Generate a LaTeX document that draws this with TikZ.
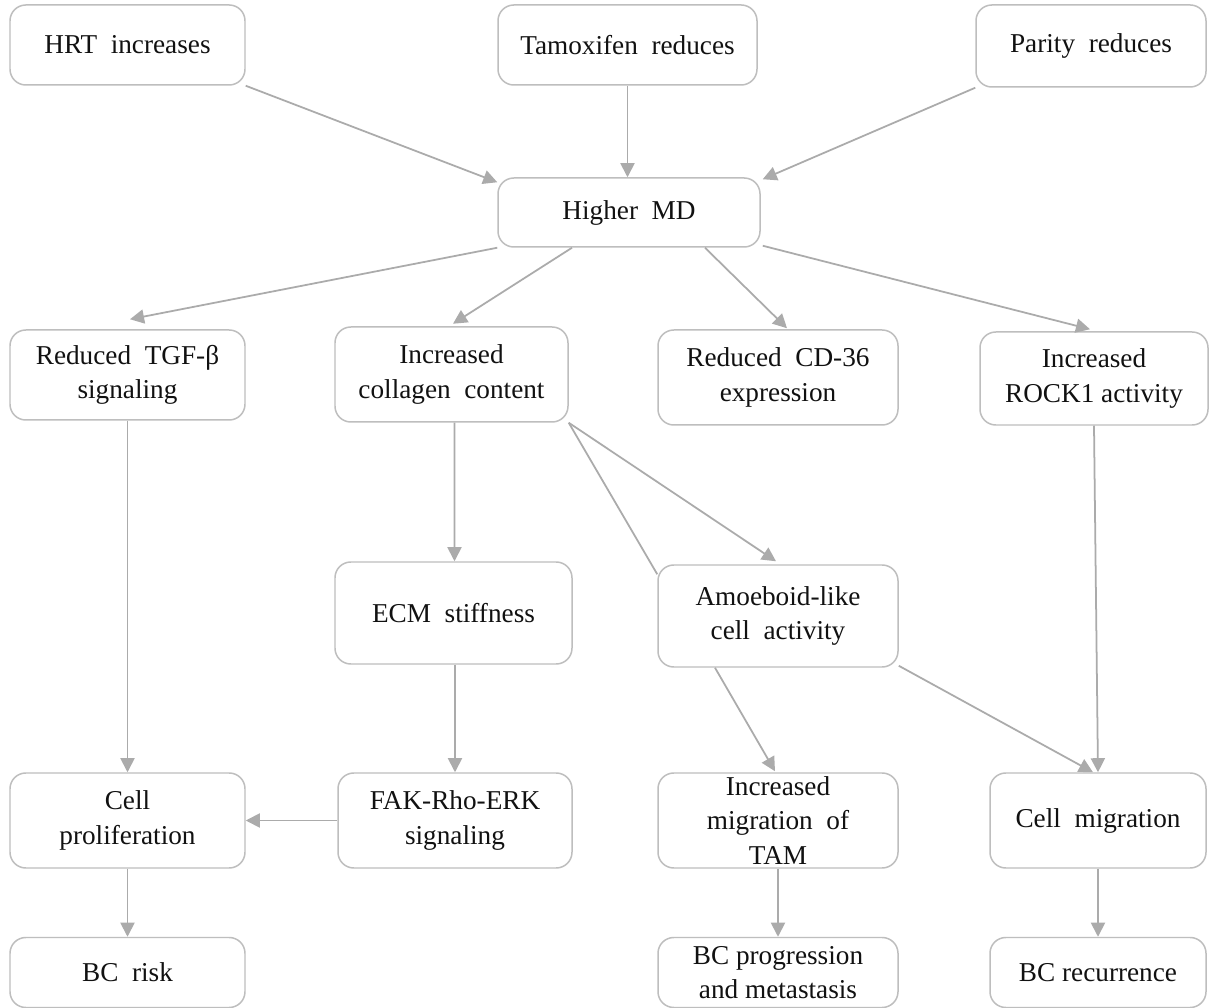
\documentclass[tikz,border=0pt]{standalone}
\usepackage{fontspec}
\setmainfont{Liberation Serif}
\usepackage{xcolor}
\usepackage{tikz}
\usetikzlibrary{calc,arrows.meta}
\definecolor{bg}{HTML}{FFFFFF}
\definecolor{edge}{HTML}{BEBEBE}
\definecolor{wire}{HTML}{ABABAB}
\definecolor{ink}{HTML}{111111}
\tikzset{
  box/.style={draw=edge, fill=bg, line width=0.85pt, rounded corners=9pt,
    text=ink, align=center, inner sep=0pt, font=\fontsize{15.5}{19.5}\selectfont},
  wide/.style={box, minimum width=4.7cm, minimum height=1.9cm},
  flat/.style={box, minimum width=4.7cm, minimum height=1.4cm},
  link/.style={draw=wire, line width=1pt, -{Triangle[length=8pt,width=8pt]}},
  plain/.style={draw=wire, line width=1pt},
}

\begin{document}
\begin{tikzpicture}
  \useasboundingbox[fill=bg] (0,0) rectangle (24.18,-20.16);
  % top row
  \node[box, minimum width=4.7cm, minimum height=1.6cm] (hrt) at (2.55,-0.9) {HRT\ \ increases};
  \node[box, minimum width=5.18cm, minimum height=1.6cm] (tmx) at (12.55,-0.9) {Tamoxifen\ \ reduces};
  \node[box, minimum width=4.6cm, minimum height=1.64cm] (par) at (21.82,-0.92) {Parity\ \ reduces};
  \node[box, minimum width=5.24cm, minimum height=1.38cm] (md) at (12.58,-4.25) {Higher\ \ MD};
  % second row
  \node[wide, minimum height=1.8cm] (tgf) at (2.55,-7.5) {Reduced\ \ TGF-β\\signaling};
  \node[wide, minimum width=4.66cm] (col) at (9.03,-7.49) {Increased\\collagen\ \ content};
  \node[wide, minimum width=4.8cm] (cd) at (15.56,-7.55) {Reduced\ \ CD-36\\expression};
  \node[wide, minimum width=4.56cm, minimum height=1.86cm] (rock) at (21.88,-7.57) {Increased\\ROCK1 activity};
  % third row
  \node[wide, minimum width=4.74cm, minimum height=2.04cm] (ecm) at (9.07,-12.26) {ECM\ \ stiffness};
  \node[wide, minimum width=4.8cm, minimum height=2.04cm] (amo) at (15.56,-12.32) {Amoeboid-like\\cell\ \ activity};
  % fourth row
  \node[wide] (prol) at (2.55,-16.41) {Cell\\proliferation};
  \node[wide, minimum width=4.68cm] (fak) at (9.1,-16.41) {FAK-Rho-ERK\\signaling};
  \node[wide, minimum width=4.8cm] (tam) at (15.56,-16.41) {Increased\\migration\ \ of\\TAM};
  \node[wide, minimum width=4.32cm] (mig) at (21.96,-16.41) {Cell\ \ migration};
  % bottom row
  \node[flat] (risk) at (2.55,-19.45) {BC\ \ risk};
  \node[flat, minimum width=4.8cm] (prog) at (15.56,-19.45) {BC\ progression\\and\ metastasis};
  \node[flat, minimum width=4.32cm] (rec) at (21.96,-19.45) {BC\ recurrence};

  \draw[link] (hrt.south east) -- ($(md.north west)+(0,-0.1)$);
  \draw[link] (tmx.south) -- (tmx.south |- md.north);
  \draw[link] (par.south west) -- ($(md.north east)+(0.04,-0.04)$);
  \draw[link] (md.south west) -- ($(tgf.north)+(0.05,0.2)$);
  \draw[link] ($(md.south)+(-1.14,0)$) -- ($(col.north)+(0.03,0.05)$);
  \draw[link] ($(md.south)+(1.52,0)$) -- ($(cd.north)+(0.18,0.02)$);
  \draw[link] ($(md.south east)+(0.04,0.04)$) -- ($(rock.north)+(-0.08,0.04)$);
  \draw[link] (tgf.south) -- (prol.north);
  \draw[link] ($(col.south)+(0.06,0)$) -- ($(ecm.north)+(0.02,0)$);
  \draw[link] (col.south east) -- ($(amo.north)+(-0.04,0.06)$);
  \draw[plain] (col.south east) -- ($(amo.north west)+(0,-0.2)$);
  \draw[link] ($(ecm.south)+(0.03,0)$) -- (fak.north);
  \draw[link] (fak.west) -- (prol.east);
  \draw[link] ($(amo.south)+(-1.26,0)$) -- ($(tam.north)+(-0.06,0.02)$);
  \draw[link] ($(amo.south east)+(0,0.04)$) -- ($(mig.north)+(-0.1,0)$);
  \draw[link] (rock.south) -- (mig.north);
  \draw[link] (prol.south) -- (risk.north);
  \draw[link] (tam.south) -- (prog.north);
  \draw[link] (mig.south) -- (rec.north);
\end{tikzpicture}
\end{document}
